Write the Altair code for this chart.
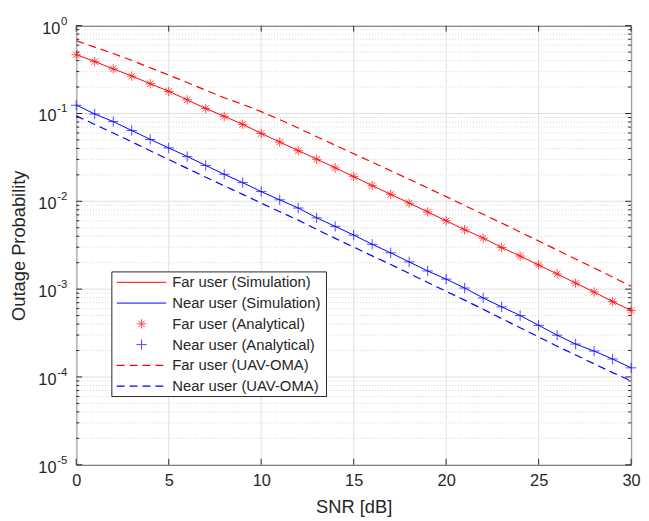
import altair as alt
import pandas as pd

snr = list(range(31))

far_sim = [0.468, 0.390, 0.322, 0.267, 0.218, 0.179, 0.143, 0.114, 0.0929, 0.0753,
           0.0593, 0.0473, 0.0378, 0.0302, 0.0241, 0.0191, 0.0151, 0.0120, 0.00957, 0.00757,
           0.00600, 0.00475, 0.00382, 0.00298, 0.00238, 0.00188, 0.00149, 0.00117, 0.000927, 0.000721,
           0.000571]
far_ana = [0.466, 0.389, 0.322, 0.266, 0.218, 0.178, 0.143, 0.114, 0.0927, 0.0752,
           0.0592, 0.0472, 0.0377, 0.0301, 0.0240, 0.0191, 0.0151, 0.0120, 0.00955, 0.00756,
           0.00600, 0.00475, 0.00381, 0.00298, 0.00238, 0.00188, 0.00149, 0.00117, 0.000926, 0.000721,
           0.000571]
near_sim = [0.125, 0.0986, 0.0809, 0.0640, 0.0507, 0.0405, 0.0324, 0.0256, 0.0203, 0.0163,
            0.0129, 0.0104, 0.00839, 0.00649, 0.00518, 0.00413, 0.00324, 0.00259, 0.00204, 0.00161,
            0.00130, 0.00103, 0.000794, 0.000628, 0.000501, 0.000387, 0.000299, 0.000237, 0.000197, 0.000160,
            0.000127]
near_ana = [0.124, 0.0985, 0.0808, 0.0640, 0.0506, 0.0405, 0.0323, 0.0256, 0.0203, 0.0163,
            0.0129, 0.0104, 0.00838, 0.00648, 0.00518, 0.00412, 0.00324, 0.00259, 0.00204, 0.00161,
            0.00130, 0.00103, 0.000793, 0.000628, 0.000500, 0.000387, 0.000299, 0.000237, 0.000197, 0.000160,
            0.000127]
far_oma = [0.673, 0.569, 0.481, 0.403, 0.331, 0.274, 0.225, 0.184, 0.151, 0.127,
           0.105, 0.0851, 0.0684, 0.0543, 0.0435, 0.0348, 0.0279, 0.0223, 0.0178, 0.0142,
           0.0113, 0.00895, 0.00711, 0.00565, 0.00447, 0.00353, 0.00279, 0.00220, 0.00174, 0.00137,
           0.00108]
near_oma = [0.0938, 0.0750, 0.0600, 0.0476, 0.0376, 0.0299, 0.0237, 0.0188, 0.0150, 0.0120,
            0.00955, 0.00762, 0.00610, 0.00479, 0.00378, 0.00301, 0.00239, 0.00191, 0.00151, 0.00119,
            0.000944, 0.000750, 0.000589, 0.000462, 0.000363, 0.000285, 0.000224, 0.000178, 0.000141, 0.000112,
            0.0000902]

x_ticks = [0, 5, 10, 15, 20, 25, 30]
y_major = [1e-5, 1e-4, 1e-3, 1e-2, 1e-1, 1.0]
y_exp = ["-5", "-4", "-3", "-2", "-1", "0"]
y_minor = [m * 10.0 ** k for k in range(-5, 0) for m in range(2, 10)]

legend_labels = ["Far user (Simulation)", "Near user (Simulation)", "Far user (Analytical)",
                 "Near user (Analytical)", "Far user (UAV-OMA)", "Near user (UAV-OMA)"]

RED = "#ff0000"
BLUE = "#0000ff"
AX = "#262626"
FONT = "Liberation Sans"
W, H = 561, 444
TICK_FS = 16.5
TITLE_FS = 18.5
LEG_FS = 15

xs = alt.Scale(domain=[0, 30], nice=False, zero=False)
ys = alt.Scale(type="log", domain=[1e-5, 1], nice=False)

def series(vals):
    return pd.DataFrame({"snr": snr, "p": vals})

df_major = pd.DataFrame({"v": y_major, "e": y_exp})
df_minor = pd.DataFrame({"v": y_minor})
df_xt = pd.DataFrame({"v": x_ticks})
one = pd.DataFrame({"a": [0]})

X = alt.X("snr:Q", scale=xs,
          axis=alt.Axis(values=x_ticks, grid=False, ticks=False, domain=False, labelFlush=False,
                        labelPadding=8, labelFontSize=TICK_FS, titleFontSize=TITLE_FS, titlePadding=9,
                        title="SNR [dB]"))
Y = alt.Y("p:Q", scale=ys,
          axis=alt.Axis(labels=False, ticks=False, domain=False, grid=False,
                        title="Outage Probability", titleFontSize=TITLE_FS, titlePadding=48))

minor_grid = alt.Chart(df_minor).mark_rule(color="#c8c8c8", strokeDash=[1, 2], strokeWidth=0.8).encode(
    y=alt.Y("v:Q", scale=ys))
major_grid = alt.Chart(df_major).mark_rule(color="#e0e0e0", strokeWidth=1).encode(
    y=alt.Y("v:Q", scale=ys))
x_grid = alt.Chart(df_xt).mark_rule(color="#e0e0e0", strokeWidth=1).encode(
    x=alt.X("v:Q", scale=xs))

far_line = alt.Chart(series(far_sim)).mark_line(color=RED, strokeWidth=1).encode(x=X, y=Y)
near_line = alt.Chart(series(near_sim)).mark_line(color=BLUE, strokeWidth=1).encode(x=X, y=Y)
far_oma_line = alt.Chart(series(far_oma)).mark_line(color=RED, strokeWidth=1.2, strokeDash=[8, 5]).encode(x=X, y=Y)
near_oma_line = alt.Chart(series(near_oma)).mark_line(color=BLUE, strokeWidth=1.2, strokeDash=[8, 5]).encode(x=X, y=Y)

STAR = "M-1,0L1,0M0,-1L0,1M-0.7,-0.7L0.7,0.7M-0.7,0.7L0.7,-0.7"
PLUS = "M-1,0L1,0M0,-1L0,1"
STAR_SIZE = 90
PLUS_SIZE = 110

far_pts = alt.Chart(series(far_ana)).mark_point(shape=STAR, filled=False, color=RED, size=STAR_SIZE,
                                                 strokeWidth=1).encode(x=X, y=Y)
near_pts = alt.Chart(series(near_ana)).mark_point(shape=PLUS, filled=False, color=BLUE, size=PLUS_SIZE,
                                                  strokeWidth=1).encode(x=X, y=Y)

# inward ticks
tl_major = alt.Chart(df_major).mark_rule(color=AX).encode(y=alt.Y("v:Q", scale=ys), x=alt.value(0), x2=alt.value(6))
tr_major = alt.Chart(df_major).mark_rule(color=AX).encode(y=alt.Y("v:Q", scale=ys), x=alt.value(W - 6), x2=alt.value(W))
tl_minor = alt.Chart(df_minor).mark_rule(color=AX).encode(y=alt.Y("v:Q", scale=ys), x=alt.value(0), x2=alt.value(3))
tr_minor = alt.Chart(df_minor).mark_rule(color=AX).encode(y=alt.Y("v:Q", scale=ys), x=alt.value(W - 3), x2=alt.value(W))
tb = alt.Chart(df_xt).mark_rule(color=AX).encode(x=alt.X("v:Q", scale=xs), y=alt.value(H - 6), y2=alt.value(H))
tt = alt.Chart(df_xt).mark_rule(color=AX).encode(x=alt.X("v:Q", scale=xs), y=alt.value(0), y2=alt.value(6))

# y tick labels 10^k
base_short = alt.Chart(df_major).transform_filter("datum.e == '0'").mark_text(
    align="right", baseline="middle", dy=3, fontSize=TICK_FS, font=FONT, color=AX).encode(
    y=alt.Y("v:Q", scale=ys), x=alt.value(-16), text=alt.value("10"))
base_long = alt.Chart(df_major).transform_filter("datum.e != '0'").mark_text(
    align="right", baseline="middle", dy=3, fontSize=TICK_FS, font=FONT, color=AX).encode(
    y=alt.Y("v:Q", scale=ys), x=alt.value(-20), text=alt.value("10"))
expo = alt.Chart(df_major).mark_text(
    align="right", baseline="middle", dy=-4, fontSize=11.5, font=FONT, color=AX).encode(
    y=alt.Y("v:Q", scale=ys), x=alt.value(-9), text="e:N")

# legend
LX0, LX1, LY0, LY1 = 36, 253, 249, 375
row_h = (LY1 - LY0) / 6
rows = [LY0 + row_h * (i + 0.5) for i in range(6)]
leg = [alt.Chart(one).mark_rect(fill="white", stroke=AX, strokeWidth=1).encode(
    x=alt.value(LX0), x2=alt.value(LX1), y=alt.value(LY0), y2=alt.value(LY1))]
leg.append(alt.Chart(one).mark_rule(color=RED, strokeWidth=1).encode(
    x=alt.value(41), x2=alt.value(91), y=alt.value(rows[0])))
leg.append(alt.Chart(one).mark_rule(color=BLUE, strokeWidth=1).encode(
    x=alt.value(41), x2=alt.value(91), y=alt.value(rows[1])))
leg.append(alt.Chart(one).mark_point(shape=STAR, filled=False, color=RED, size=STAR_SIZE, strokeWidth=1).encode(
    x=alt.value(66), y=alt.value(rows[2])))
leg.append(alt.Chart(one).mark_point(shape=PLUS, filled=False, color=BLUE, size=PLUS_SIZE, strokeWidth=1).encode(
    x=alt.value(66), y=alt.value(rows[3])))
leg.append(alt.Chart(one).mark_rule(color=RED, strokeWidth=1.2, strokeDash=[8, 5]).encode(
    x=alt.value(41), x2=alt.value(91), y=alt.value(rows[4])))
leg.append(alt.Chart(one).mark_rule(color=BLUE, strokeWidth=1.2, strokeDash=[8, 5]).encode(
    x=alt.value(41), x2=alt.value(91), y=alt.value(rows[5])))
for i, lab in enumerate(legend_labels):
    leg.append(alt.Chart(one).mark_text(align="left", baseline="middle", fontSize=LEG_FS, font=FONT,
                                        color=AX).encode(
        x=alt.value(97), y=alt.value(rows[i]), text=alt.value(lab)))

chart = alt.layer(
    minor_grid, major_grid, x_grid,
    far_oma_line, near_oma_line, far_line, near_line, far_pts, near_pts,
    tl_major, tr_major, tl_minor, tr_minor, tb, tt,
    base_short, base_long, expo,
    *leg
).properties(
    width=W, height=H,
    padding={"left": 69, "top": 15, "right": 10, "bottom": 54},
    autosize=alt.AutoSizeParams(type="none"),
    background="white",
).configure_view(
    stroke=AX, strokeWidth=1
).configure_axis(
    labelFont=FONT, titleFont=FONT, labelColor=AX, titleColor=AX, titleFontWeight="normal"
)

chart.save("out.html", embed_options={"renderer": "svg", "actions": False})
